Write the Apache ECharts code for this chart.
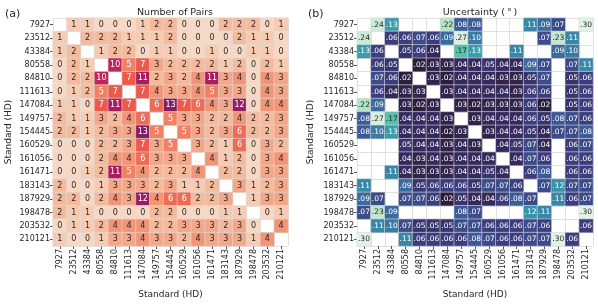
<!DOCTYPE html>
<html>
<head>
<meta charset="utf-8">
<script src="https://cdn.jsdelivr.net/npm/echarts@6/dist/echarts.min.js"></script>
<style>html,body{margin:0;padding:0;background:#fff;}#c{width:598px;height:304px;}</style>
</head>
<body>
<div id="c"></div>
<script>
const labels = ['7927','23512','43384','80558','84810','111613','147084','149757','154445','160529','161056','161471','183143','187929','198478','203532','210121'];

const pairCounts = [
  [null,1,1,0,0,0,1,2,2,0,0,0,2,2,2,0,1],
  [1,null,2,2,2,1,1,1,2,0,0,0,0,2,1,1,0],
  [1,2,null,1,2,2,0,1,1,0,0,1,0,0,1,1,0],
  [0,2,1,null,10,5,7,3,2,2,2,2,1,2,0,2,1],
  [0,2,2,10,null,7,11,2,3,2,4,11,3,4,0,4,3],
  [0,1,2,5,7,null,7,4,3,3,4,5,3,3,0,4,3],
  [1,1,0,7,11,7,null,6,13,7,6,4,3,12,0,4,4],
  [2,1,1,3,2,4,6,null,5,3,3,2,2,4,2,2,3],
  [2,2,1,2,3,3,13,5,null,5,3,2,3,6,2,2,3],
  [0,0,0,2,2,3,7,3,5,null,3,2,1,6,0,3,2],
  [0,0,0,2,4,4,6,3,3,3,null,4,1,2,0,3,4],
  [0,0,1,2,11,5,4,2,2,2,4,null,2,2,0,3,3],
  [2,0,0,1,3,3,3,2,3,1,1,2,null,3,1,2,3],
  [2,2,0,2,4,3,12,4,6,6,2,2,3,null,1,3,3],
  [2,1,1,0,0,0,0,2,2,0,0,0,1,1,null,0,1],
  [0,1,1,2,4,4,4,2,2,3,3,3,2,3,0,null,4],
  [1,0,0,1,3,3,4,3,3,2,4,3,3,3,1,4,null]
];

const N = null;
const uncertainty = [
  [N,.24,.13,N,N,N,.22,.08,.08,N,N,N,.11,.09,.07,N,.30],
  [.24,N,.06,.06,.07,.06,.09,.27,.10,N,N,N,N,.07,.23,.11,N],
  [.13,.06,N,.05,.06,.04,N,.17,.13,N,N,.11,N,N,.09,.10,N],
  [N,.06,.05,N,.02,.03,.03,.04,.04,.05,.04,.04,.09,.07,N,.07,.11],
  [N,.07,.06,.02,N,.03,.02,.04,.04,.04,.03,.03,.05,.07,N,.05,.06],
  [N,.06,.04,.03,.03,N,.03,.04,.04,.04,.04,.03,.06,.06,N,.05,.06],
  [.22,.09,N,.03,.02,.03,N,.03,.02,.03,.03,.03,.06,.02,N,.05,.06],
  [.08,.27,.17,.04,.04,.04,.03,N,.03,.04,.04,.04,.06,.05,.08,.07,.06],
  [.08,.10,.13,.04,.04,.04,.02,.03,N,.03,.04,.04,.05,.04,.07,.07,.08],
  [N,N,N,.05,.04,.04,.03,.04,.03,N,.04,.05,.07,.04,N,.06,.07],
  [N,N,N,.04,.03,.04,.03,.04,.04,.04,N,.04,.07,.06,N,.06,.06],
  [N,N,.11,.04,.03,.03,.03,.04,.04,.05,.04,N,.06,.08,N,.06,.06],
  [.11,N,N,.09,.05,.06,.06,.06,.05,.07,.07,.06,N,.07,.12,.07,.07],
  [.09,.07,N,.07,.07,.06,.02,.05,.04,.04,.06,.08,.07,N,.11,.06,.07],
  [.07,.23,.09,N,N,N,N,.08,.07,N,N,N,.12,.11,N,N,.30],
  [N,.11,.10,.07,.05,.05,.05,.07,.07,.06,.06,.06,.07,.06,N,N,.06],
  [.30,N,N,.11,.06,.06,.06,.06,.08,.07,.06,.06,.07,.07,.30,.06,N]
];

const pairColors = ['#f8d8c3','#f7cbb1','#f5ba9c','#f4a688','#f29476','#f08165','#ed6c55','#eb5a4b','#e0454a','#d23352','#c1235a','#ab1c5e','#991b60','#851d61'];
const uncColors = ['#2b1d3c','#352a5e','#3b3d7e','#3c5a97','#3a7aa3','#3893aa','#3aa6ab','#4ab9ab','#66c8ab','#8ed6b3','#b3e3c6','#cdecd7','#d6efdd','#dcf2e2','#e0f4e6'];

const FONT = 'DejaVu Sans';
const DARK = '#262626';

function buildData(matrix, isDark) {
  const out = [];
  matrix.forEach((row, i) => row.forEach((v, j) => {
    if (v === null) return;
    out.push({ value: [j, i, v], label: { color: isDark(v) ? '#ffffff' : DARK } });
  }));
  return out;
}

const pairData = buildData(pairCounts, v => v >= 5);
const uncData = buildData(uncertainty, v => v <= 0.14);

const grids = [
  { left: 53, top: 18, width: 235, height: 237 },
  { left: 357, top: 18, width: 236, height: 237 }
];

function xAx(gi) {
  return {
    type: 'category', gridIndex: gi, data: labels, position: 'bottom',
    name: 'Standard (HD)', nameLocation: 'middle', nameGap: 44,
    nameTextStyle: { fontFamily: FONT, fontSize: 9, color: DARK },
    axisLine: { show: false },
    axisTick: { show: true, alignWithLabel: true, length: 3, lineStyle: { color: DARK, width: 0.8 } },
    axisLabel: { rotate: 90, fontFamily: FONT, fontSize: 8, color: DARK, margin: 3, interval: 0 },
    splitLine: { show: true, interval: 0, lineStyle: { color: '#d4d4d4', width: 0.7 } }
  };
}
function yAx(gi, gap) {
  return {
    type: 'category', gridIndex: gi, data: labels, inverse: true,
    name: 'Standard (HD)', nameLocation: 'middle', nameGap: gap, nameRotate: 90,
    nameTextStyle: { fontFamily: FONT, fontSize: 9, color: DARK },
    axisLine: { show: false },
    axisTick: { show: true, alignWithLabel: true, length: 3, lineStyle: { color: DARK, width: 0.8 } },
    axisLabel: { fontFamily: FONT, fontSize: 8, color: DARK, margin: 3, interval: 0 },
    splitLine: { show: true, interval: 0, lineStyle: { color: '#d4d4d4', width: 0.7 } }
  };
}

const chart = echarts.init(document.getElementById('c'), null, { renderer: 'canvas' });
chart.setOption({
  animation: false,
  backgroundColor: '#ffffff',
  title: [
    { text: 'Number of Pairs', left: 170, top: 3, textAlign: 'center', textStyle: { fontFamily: FONT, fontSize: 9.5, fontWeight: 'normal', color: DARK } },
    { text: 'Uncertainty (\u2009°\u2009)', left: 475, top: 3, textAlign: 'center', textStyle: { fontFamily: FONT, fontSize: 9.5, fontWeight: 'normal', color: DARK } },
    { text: '(a)', left: 0, top: 4, textStyle: { fontFamily: FONT, fontSize: 11, fontWeight: 'normal', color: DARK } },
    { text: '(b)', left: 303, top: 4, textStyle: { fontFamily: FONT, fontSize: 11, fontWeight: 'normal', color: DARK } }
  ],
  grid: grids,
  xAxis: [xAx(0), xAx(1)],
  yAxis: [yAx(0, 40), yAx(1, 42)],
  visualMap: [
    { type: 'continuous', show: false, seriesIndex: 0, min: 0, max: 13, inRange: { color: pairColors } },
    { type: 'continuous', show: false, seriesIndex: 1, min: 0.02, max: 0.30, inRange: { color: uncColors } }
  ],
  series: [
    {
      type: 'heatmap', xAxisIndex: 0, yAxisIndex: 0, data: pairData,
      itemStyle: { borderColor: '#dedede', borderWidth: 0.6 },
      label: { show: true, fontFamily: FONT, fontSize: 8, formatter: p => String(p.value[2]) },
      emphasis: { disabled: true }
    },
    {
      type: 'heatmap', xAxisIndex: 1, yAxisIndex: 1, data: uncData,
      itemStyle: { borderColor: '#dedede', borderWidth: 0.6 },
      label: { show: true, fontFamily: FONT, fontSize: 7.5, formatter: p => p.value[2].toFixed(2).replace(/^0/, '') },
      emphasis: { disabled: true }
    }
  ]
});
</script>
</body>
</html>
